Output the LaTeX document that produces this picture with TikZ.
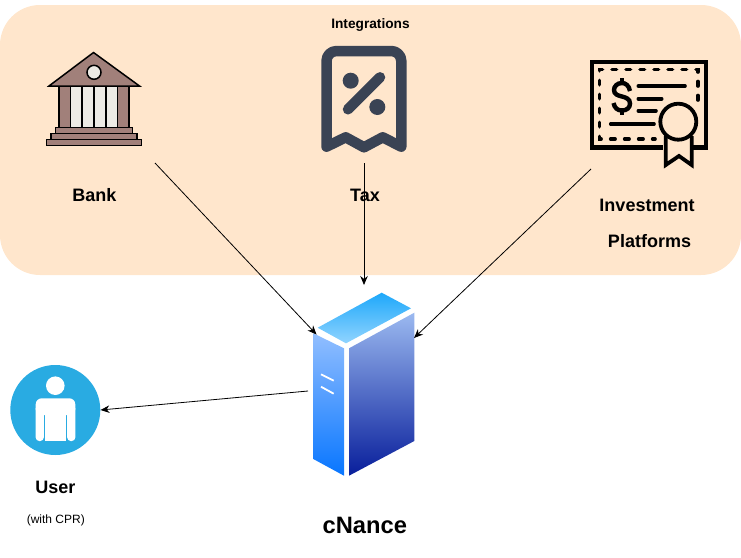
\documentclass[tikz,border=0pt]{standalone}
\usepackage{fontspec}
\setmainfont{Liberation Sans}
\usetikzlibrary{arrows.meta}
\definecolor{panelfill}{HTML}{FFE6CC}
\definecolor{bankbrown}{HTML}{A1807A}
\definecolor{bankwhite}{HTML}{EDEBE5}
\definecolor{taxslate}{HTML}{3A4354}
\definecolor{userblue}{HTML}{29ABE2}
\tikzset{
  title/.style={font=\fontsize{18}{20}\selectfont\bfseries,inner sep=0pt},
  flow/.style={draw=black,line width=0.8pt,-{Stealth[length=9pt,width=7.5pt]}},
  bankpart/.style={draw=black,line width=1.5pt,fill=bankbrown},
  bankcol/.style={draw=black,line width=1.5pt,fill=bankwhite},
  taxline/.style={draw=taxslate,line width=10.5pt,line cap=round,line join=round},
  certline/.style={draw=black,line width=3.6pt,line cap=round},
  slit/.style={draw=white,line width=1.8pt}
}
\begin{document}
\begin{tikzpicture}[x=1pt,y=-1pt]
\useasboundingbox (0,0) rectangle (741,557);
\fill[panelfill,rounded corners=40pt] (0,5) rectangle (741,275);
% bank
\draw[bankpart] (49,86) -- (93.5,52.5) -- (139.5,86) -- cycle;
\draw[bankcol] (94,72.3) circle (7);
\draw[bankpart] (59,86.5) rectangle (129,127.5);
\draw[bankcol] (70.7,86.5) rectangle (82,127.5);
\draw[bankcol] (82,86.5) rectangle (94,127.5);
\draw[bankcol] (94,86.5) rectangle (106,127.5);
\draw[bankcol] (106,86.5) rectangle (117.3,127.5);
\draw[bankpart] (55.7,127.5) rectangle (132.3,133.3);
\draw[bankpart] (51,133.3) rectangle (137,139.3);
\draw[bankpart] (46.7,139.3) rectangle (141.7,145.7);
% tax
\draw[taxline] (326.5,146.7) -- (326.5,61) arc[start angle=180,end angle=90,radius=10pt] -- (391.3,51) arc[start angle=90,end angle=0,radius=10pt] -- (401.3,146.7) -- (382.7,137.3) -- (364,147.3) -- (345.7,137.3) -- cycle;
\fill[taxslate] (350.7,80.7) circle (8);
\fill[taxslate] (377.3,107) circle (8);
\draw[taxline] (380,77.3) -- (348,109.3);
% certificate
\draw[line width=4.4pt,line join=miter] (663,147.3) -- (592,147.3) -- (592,62) -- (706,62) -- (706,147.3) -- (691.7,147.3);
\draw[certline,dash pattern=on 4.5pt off 9.5pt] (698,100) -- (698,69.5) -- (599.3,69.5) -- (599.3,139) -- (655,139);
\draw[line width=4.4pt] (630,91) .. controls (629,85.5) and (625.5,83) .. (622,83) .. controls (617,83) and (614,86.5) .. (614,90) .. controls (614,94.5) and (618,95.5) .. (622,96.5) .. controls (626,97.5) and (630,99) .. (630,103.5) .. controls (630,107.5) and (627,110.5) .. (622,110.5) .. controls (617.5,110.5) and (614.5,108) .. (613.5,103);
\draw[line width=4pt] (622,78) -- (622,84);
\draw[line width=4pt] (622,109.5) -- (622,115);
\draw[certline] (638.3,86) -- (685,86);
\draw[certline] (638.3,98.7) -- (661.7,98.7);
\draw[certline] (638.3,110.7) -- (656,110.7);
\draw[certline] (610.7,124) -- (654,124);
\draw[line width=3.8pt,line join=miter] (665.7,136) -- (665.7,165) -- (679,156) -- (691.7,165) -- (691.7,136);
\draw[line width=3.8pt,fill=panelfill] (678.3,121.7) circle (18);
% server
\shade[top color={rgb,255:red,30;green,168;blue,250},bottom color={rgb,255:red,145;green,212;blue,255}] (381.7,292.7) -- (411,308.3) -- (346,343.3) -- (317.7,327.7) -- cycle;
\shade[top color={rgb,255:red,145;green,190;blue,255},bottom color={rgb,255:red,8;green,118;blue,255}] (313.3,333.3) -- (344,348.3) -- (344,475.7) -- (313.3,459) -- cycle;
\shade[top color={rgb,255:red,155;green,185;blue,240},bottom color={rgb,255:red,8;green,30;blue,155}] (349,348.3) -- (414.3,312.7) -- (414.3,441) -- (349,475.7) -- cycle;
\draw[slit] (321,374.3) -- (333.7,380.7);
\draw[slit] (321,386.7) -- (333.7,393.7);
% user
\node[circle,fill=userblue,minimum size=90pt,inner sep=0pt] (user) at (55.3,410) {};
\fill[white] (55.3,385.7) circle (9.3);
\fill[white,rounded corners=6pt] (35.7,415) -- (35.7,398.3) -- (75.3,398.3) -- (75.3,415) -- cycle;
\fill[white,rounded corners=3.5pt] (35.7,405) rectangle (43.8,441);
\fill[white,rounded corners=3.5pt] (67.2,405) rectangle (75.3,441);
\fill[white] (45,405) rectangle (66,441);
% labels
\node[font=\fontsize{13.7}{15}\selectfont\bfseries,inner sep=0pt] (integrations) at (370.5,25) {Integrations};
\node[title] (bank) at (94.5,195) {Bank};
\node[title] (tax) at (365,195) {Tax};
\node[title] (investment) at (647,205) {Investment};
\node[title] (platforms) at (649.5,241) {Platforms};
\node[title] (username) at (55.5,487) {User};
\node[font=\fontsize{12}{13}\selectfont,inner sep=0pt] (cpr) at (55.8,520) {(with CPR)};
\node[font=\fontsize{23.7}{26}\selectfont\bfseries,inner sep=0pt] (cnance) at (364.8,525) {cNance};
% connectors
\coordinate (bankout) at (155,163);
\coordinate (taxout) at (364,163);
\coordinate (investout) at (591,169);
\coordinate (serverleft) at (316.5,334.5);
\coordinate (servertop) at (364,285);
\coordinate (serverright) at (414,338);
\coordinate (serverout) at (308,391);
\draw[flow] (bankout) -- (serverleft);
\draw[flow] (taxout) -- (servertop);
\draw[flow] (investout) -- (serverright);
\draw[flow] (serverout) -- (user.east);
\end{tikzpicture}
\end{document}
